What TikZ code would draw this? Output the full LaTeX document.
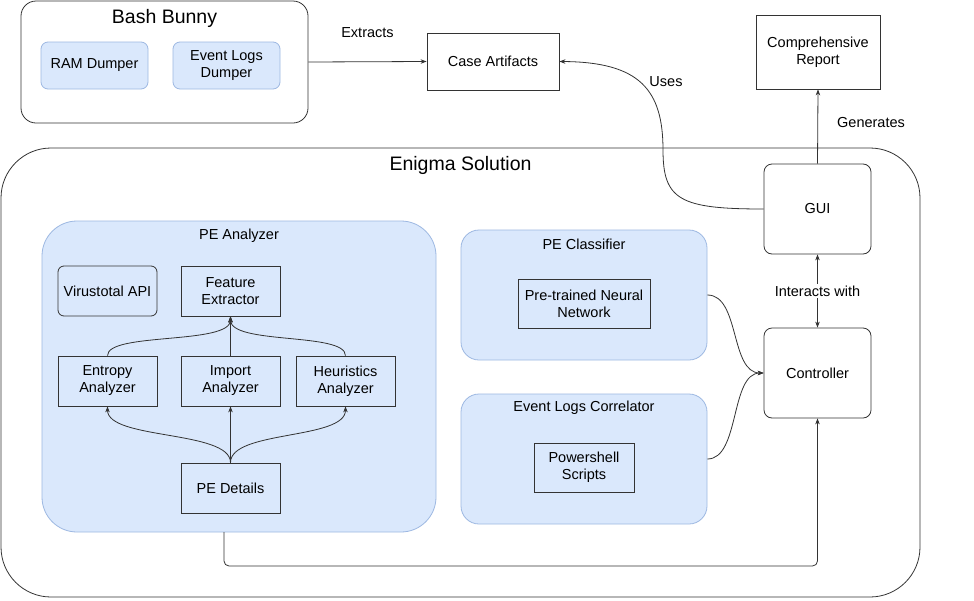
\documentclass[tikz,border=0pt]{standalone}
\usepackage{fontspec}
\setmainfont{Liberation Sans}
\usetikzlibrary{arrows.meta}
\definecolor{bfill}{HTML}{DAE8FC}
\definecolor{bline}{HTML}{9DB8E2}
\definecolor{lcol}{HTML}{333333}
\tikzset{
  txt/.style={font=\fontsize{14.5}{17}\selectfont, align=center, text=black},
  bigtxt/.style={font=\fontsize{19.5}{23}\selectfont, text=black},
  container/.style={draw=lcol, line width=0.8pt, fill=white, inner sep=0pt},
  bluebox/.style={draw=bline, line width=0.8pt, fill=bfill, inner sep=0pt},
  plainbox/.style={draw=lcol, line width=0.8pt, inner sep=0pt, txt},
  roundbox/.style={plainbox, rounded corners=8pt},
  conn/.style={draw=lcol, line width=0.8pt, -{Stealth[length=6pt,width=4.5pt]}},
}
\begin{document}
\begin{tikzpicture}[x=1pt,y=-1pt]
\useasboundingbox (0,0) rectangle (974,600);
% Bash Bunny
\node[container, rounded corners=15pt, minimum width=287pt, minimum height=122pt] (bash) at (164.5,62) {};
\node[bigtxt] (bashT) at (164.5,18) {Bash Bunny};
\node[bluebox, rounded corners=7pt, minimum width=107pt, minimum height=47pt, txt] (ram) at (94.5,65.5) {RAM Dumper};
\node[bluebox, rounded corners=7pt, minimum width=107pt, minimum height=47pt, txt] (evd) at (226.5,65.5) {Event Logs\\Dumper};
% Case artifacts, report
\node[plainbox, minimum width=132pt, minimum height=57pt] (ca) at (493,61.5) {Case Artifacts};
\node[plainbox, minimum width=124pt, minimum height=74pt] (rep) at (818,52) {Comprehensive\\Report};
% Enigma
\node[container, rounded corners=50pt, minimum width=919pt, minimum height=449pt] (enig) at (460.5,372.5) {};
\node[bigtxt] (enigT) at (460.5,165) {Enigma Solution};
% GUI and Controller
\node[roundbox, fill=white, minimum width=107pt, minimum height=90pt] (gui) at (817.5,209) {GUI};
\node[roundbox, fill=white, minimum width=107pt, minimum height=90pt] (ctrl) at (817.5,373) {Controller};
% PE Analyzer
\node[bluebox, rounded corners=35pt, minimum width=394pt, minimum height=311pt] (pea) at (239,376.5) {};
\node[txt] (peaT) at (239,236) {PE Analyzer};
\node[roundbox, rounded corners=6pt, minimum width=99pt, minimum height=50pt] (vt) at (107.5,291) {Virustotal API};
\node[plainbox, minimum width=99pt, minimum height=50pt] (fe) at (230.5,291) {Feature\\Extractor};
\node[plainbox, minimum width=99pt, minimum height=50pt] (ent) at (107.5,381) {Entropy\\Analyzer};
\node[plainbox, minimum width=99pt, minimum height=50pt] (imp) at (230.5,381) {Import\\Analyzer};
\node[plainbox, minimum width=99pt, minimum height=50pt] (heu) at (345.5,381) {Heuristics\\Analyzer};
\node[plainbox, minimum width=99pt, minimum height=50pt] (ped) at (230.5,488) {PE Details};
% PE Classifier
\node[bluebox, rounded corners=18pt, minimum width=246pt, minimum height=130pt] (pec) at (584,295) {};
\node[txt] (pecT) at (584,244) {PE Classifier};
\node[plainbox, minimum width=132pt, minimum height=49pt] (nn) at (584,303.5) {Pre-trained Neural\\Network};
% Event Logs Correlator
\node[bluebox, rounded corners=18pt, minimum width=246pt, minimum height=130pt] (elc) at (584,459) {};
\node[txt] (elcT) at (584,408) {Event Logs Correlator};
\node[plainbox, minimum width=100pt, minimum height=49pt] (ps) at (584,467.5) {Powershell\\Scripts};
% connectors
\draw[conn] (bash.east) -- node[txt, above=20pt] (extL) {Extracts} (ca.west);
\draw[conn] (gui.north) -- (rep.south);
\node[txt] (genL) at (871,123) {Generates};
\draw[conn] (gui.west) .. controls (680,209) and (663,200) .. (663,150) .. controls (663,90) and (640,62) .. (ca.east);
\node[txt] (usesL) at (666,82) {Uses};
\draw[conn, {Stealth[length=6pt,width=4.5pt]}-{Stealth[length=6pt,width=4.5pt]}] (gui.south) -- node[txt, fill=white, inner sep=2pt] (intL) {Interacts with} (ctrl.north);
\draw[conn] (pec.east) .. controls (740,295) and (730,373) .. (ctrl.west);
\draw[conn] (elc.east) .. controls (740,459) and (730,373) .. (ctrl.west);
\coordinate (peaB) at (224,532);
\draw[conn, rounded corners=5pt] (peaB) -- (224,566) -- (817.5,566) -- (ctrl.south);
% inside PE analyzer
\draw[conn] (ent.north) .. controls (107.5,332) and (230.5,345) .. (fe.south);
\draw[conn] (imp.north) -- (fe.south);
\draw[conn] (heu.north) .. controls (345.5,332) and (230.5,345) .. (fe.south);
\draw[conn] (ped.north) .. controls (230.5,430) and (107.5,440) .. (ent.south);
\draw[conn] (ped.north) -- (imp.south);
\draw[conn] (ped.north) .. controls (230.5,430) and (345.5,440) .. (heu.south);
\end{tikzpicture}
\end{document}
